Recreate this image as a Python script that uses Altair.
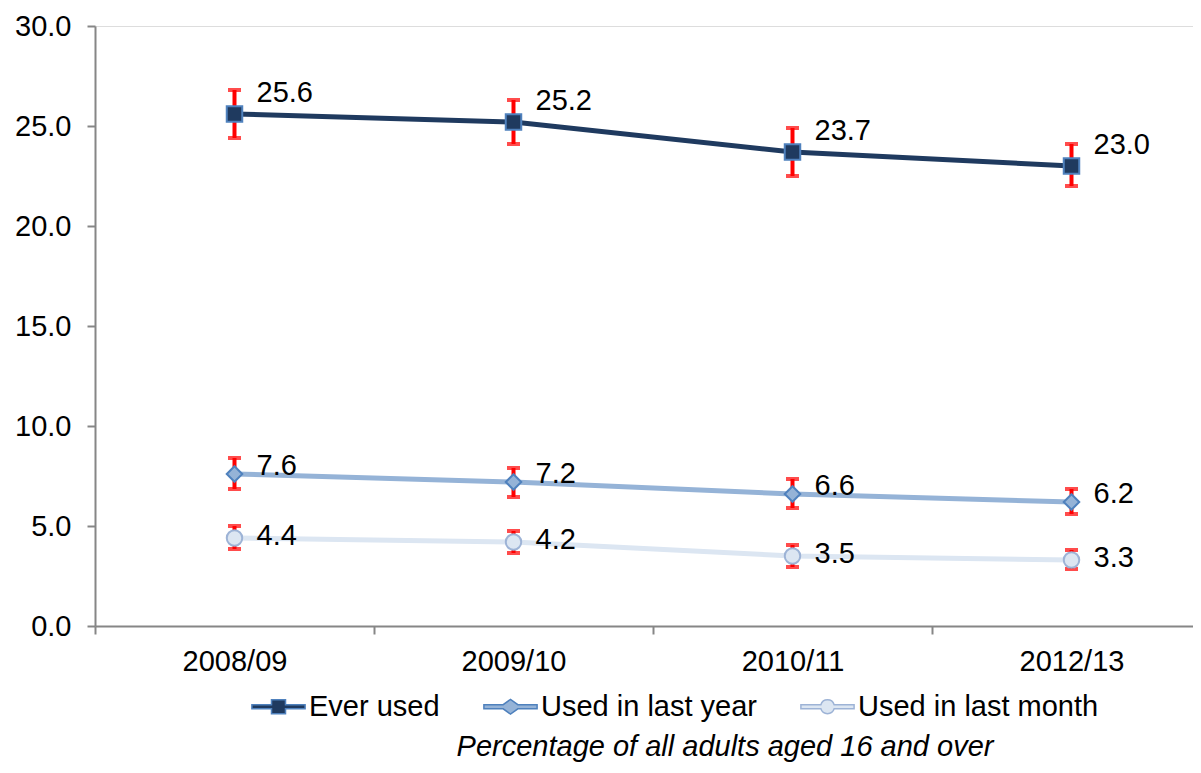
import altair as alt
import pandas as pd

years = ["2008/09", "2009/10", "2010/11", "2012/13"]
series_names = ["Ever used", "Used in last year", "Used in last month"]

ever_used = [25.6, 25.2, 23.7, 23.0]
ever_lo = [24.4, 24.1, 22.5, 22.0]
ever_hi = [26.8, 26.3, 24.9, 24.1]

last_year = [7.6, 7.2, 6.6, 6.2]
year_lo = [6.85, 6.45, 5.9, 5.6]
year_hi = [8.4, 7.9, 7.35, 6.85]

last_month = [4.4, 4.2, 3.5, 3.3]
month_lo = [3.85, 3.65, 2.95, 2.85]
month_hi = [5.0, 4.75, 4.05, 3.8]

line_colors = ["#1F3A5F", "#95B3D7", "#DCE6F2"]
marker_fill = ["#1F3A5F", "#95B3D7", "#DCE6F2"]
marker_stroke = ["#4F81BD", "#4F81BD", "#9DB3D6"]
marker_shapes = ["square", "diamond", "circle"]
legend_shapes = [
    "M-3.8,-0.3L-1,-0.3L-1,-1L1,-1L1,-0.3L3.8,-0.3L3.8,0.3L1,0.3L1,1L-1,1L-1,0.3L-3.8,0.3Z",
    "M-3.8,-0.3L-1.05,-0.3L0,-1.05L1.05,-0.3L3.8,-0.3L3.8,0.3L1.05,0.3L0,1.05L-1.05,0.3L-3.8,0.3Z",
    "M-3.8,-0.3L-0.95,-0.3A1,1 0 0 1 0.95,-0.3L3.8,-0.3L3.8,0.3L0.95,0.3A1,1 0 0 1 -0.95,0.3L-3.8,0.3Z",
]

rows = []
for name, vals, lo, hi in [
    ("Ever used", ever_used, ever_lo, ever_hi),
    ("Used in last year", last_year, year_lo, year_hi),
    ("Used in last month", last_month, month_lo, month_hi),
]:
    for yr, v, l, h in zip(years, vals, lo, hi):
        rows.append({"year": yr, "series": name, "value": v, "lo": l, "hi": h,
                     "label": f"{v:.1f}"})
df = pd.DataFrame(rows)

FONT = "Liberation Sans"
FS = 29

x_enc = alt.X(
    "year:N",
    sort=years,
    scale=alt.Scale(type="band", range=[0, 1116], paddingInner=0, paddingOuter=0),
    axis=alt.Axis(
        title=None, labelAngle=0, labelFontSize=FS, labelFont=FONT, labelColor="black",
        labelPadding=13, tickBand="extent", tickSize=8, tickColor="#868686",
        domainColor="#868686", domainWidth=2, tickWidth=2, grid=False,
    ),
)
y_scale = alt.Scale(domain=[0, 30], nice=False, zero=True)
y_enc = alt.Y(
    "value:Q",
    scale=y_scale,
    axis=alt.Axis(
        title=None, values=[0, 5, 10, 15, 20, 25, 30], format=".1f",
        labelFontSize=FS, labelFont=FONT, labelColor="black", labelPadding=16,
        tickSize=8, tickColor="#868686", domainColor="#868686", domainWidth=2,
        tickWidth=2, grid=False,
    ),
)

base = alt.Chart(df)

lines = base.mark_line(strokeWidth=5).encode(
    x=x_enc, y=y_enc,
    color=alt.Color("series:N", scale=alt.Scale(domain=series_names, range=line_colors), legend=None),
    detail="series:N",
)

rules = base.mark_rule(color="#FF0000", strokeWidth=4).encode(
    x=alt.X("year:N", sort=years), y=alt.Y("lo:Q", scale=y_scale), y2="hi:Q"
)
caps_lo = base.mark_tick(color="#FF0000", thickness=4, size=13).encode(
    x=alt.X("year:N", sort=years), y=alt.Y("lo:Q", scale=y_scale)
)
caps_hi = base.mark_tick(color="#FF0000", thickness=4, size=13).encode(
    x=alt.X("year:N", sort=years), y=alt.Y("hi:Q", scale=y_scale)
)

points = base.mark_point(filled=True, size=240, strokeWidth=2, opacity=1).encode(
    x=alt.X("year:N", sort=years), y=alt.Y("value:Q", scale=y_scale),
    shape=alt.Shape("series:N", scale=alt.Scale(domain=series_names, range=marker_shapes), legend=None),
    fill=alt.Fill("series:N", scale=alt.Scale(domain=series_names, range=marker_fill), legend=None),
    stroke=alt.Stroke("series:N", scale=alt.Scale(domain=series_names, range=marker_stroke), legend=None),
)

legend_layer = base.mark_point(filled=True, size=196, strokeWidth=1.5, opacity=0).encode(
    x=alt.X("year:N", sort=years), y=alt.Y("value:Q", scale=y_scale),
    shape=alt.Shape("series:N", scale=alt.Scale(domain=series_names, range=legend_shapes),
                    legend=alt.Legend(
                        title=None, orient="none", legendX=149, legendY=666,
                        direction="horizontal", columns=3, symbolSize=196,
                        symbolOpacity=1, labelFontSize=FS, labelFont=FONT,
                        labelColor="black", symbolOffset=20, labelOffset=16,
                        columnPadding=36, symbolStrokeWidth=1.5, labelLimit=0,
                    )),
    fill=alt.Fill("series:N", scale=alt.Scale(domain=series_names, range=marker_fill),
                  legend=alt.Legend(title=None, labelLimit=0)),
    stroke=alt.Stroke("series:N", scale=alt.Scale(domain=series_names, range=marker_stroke),
                      legend=alt.Legend(title=None, labelLimit=0)),
)

def labels(name, dy):
    return base.transform_filter(alt.datum.series == name).mark_text(
        align="left", baseline="middle", dx=22, dy=dy, fontSize=FS, font=FONT, color="black"
    ).encode(x=alt.X("year:N", sort=years), y=alt.Y("value:Q", scale=y_scale), text="label:N")

chart = alt.layer(
    lines, rules, caps_lo, caps_hi, points, legend_layer,
    labels("Ever used", -21), labels("Used in last year", -8), labels("Used in last month", -2),
).resolve_scale(
    color="independent", fill="independent", stroke="independent", shape="independent"
).properties(
    width=1098, height=600,
    title=alt.TitleParams(
        "Percentage of all adults aged 16 and over", orient="bottom", anchor="middle",
        fontSize=FS, font=FONT, fontStyle="italic", fontWeight="normal", color="black",
        offset=11, dx=81,
    ),
    autosize=alt.AutoSizeParams(type="none"),
    padding={"left": 87, "top": 18, "right": 0, "bottom": 139},
).configure_view(stroke=None).configure(background="white")

chart.save("out.html", embed_options={"renderer": "svg", "actions": False})
